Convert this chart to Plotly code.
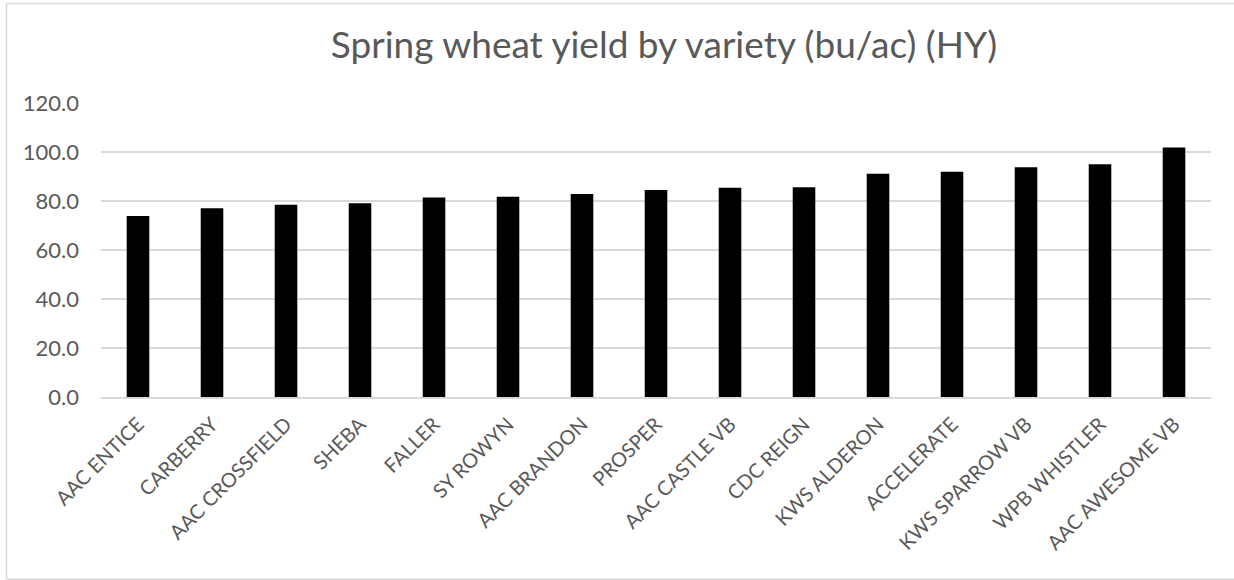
import plotly.graph_objects as go

varieties = ["AAC ENTICE", "CARBERRY", "AAC CROSSFIELD", "SHEBA", "FALLER", "SY ROWYN",
             "AAC BRANDON", "PROSPER", "AAC CASTLE VB", "CDC REIGN", "KWS ALDERON",
             "ACCELERATE", "KWS SPARROW VB", "WPB WHISTLER", "AAC AWESOME VB"]
yield_bu_ac = [73.9, 77.0, 78.5, 79.1, 81.4, 81.7, 82.9, 84.5, 85.4, 85.6, 91.1, 91.9, 93.8, 95.0, 101.8]
y_ticks = [0, 20, 40, 60, 80, 100, 120]

W, H = 1234, 580
# plot area in page pixels
PL, PR, PT, PB = 101, 1211, 103.3, 396.7
L, T = PL, PT
pw, ph = PR - PL, PB - PT
R, B = W - PR, H - PB

def px(x):
    return (x - L) / pw

def py(y):
    return (PB - y) / ph

frame = dict(color="#d9d9d9", width=1.5)
fig = go.Figure(go.Bar(x=varieties, y=yield_bu_ac, marker=dict(color="#000000", line=dict(width=0)),
                       hoverinfo="x+y"))

fig.update_layout(
    width=W, height=H,
    margin=dict(l=L, r=R, t=T, b=B, autoexpand=False),
    paper_bgcolor="white", plot_bgcolor="white",
    bargap=0.695,
    showlegend=False,
    font=dict(family="Lato, Open Sans, sans-serif", color="#595959"),
    title=dict(text="Spring wheat yield by variety (bu/ac) (HY)", x=664 / W, xanchor="center",
               y=1 - 45 / H, yanchor="middle",
               font=dict(size=37, color="#595959", family="Lato, Open Sans, sans-serif")),
    xaxis=dict(tickangle=-45, tickfont=dict(size=20, color="#595959"), showgrid=False,
               showline=True, linecolor="#d9d9d9", linewidth=1.5, ticks="", ticklabelstandoff=6),
    yaxis=dict(range=[0, 120], tickvals=y_ticks, tickformat=".1f",
               tickfont=dict(size=22, color="#595959"), showgrid=True, gridcolor="#d9d9d9",
               gridwidth=1.5, zeroline=False, showline=False, ticks="", ticklabelstandoff=21),
    shapes=[
        dict(type="line", xref="paper", yref="paper", x0=px(6.5), x1=px(6.5), y0=py(578.5), y1=py(4), line=frame),
        dict(type="line", xref="paper", yref="paper", x0=px(6.5), x1=px(1234), y0=py(4), y1=py(4), line=frame),
        dict(type="line", xref="paper", yref="paper", x0=px(6.5), x1=px(1234), y0=py(578.5), y1=py(578.5), line=frame),
    ],
)

fig.write_html("out.html", config={"displayModeBar": False},
               post_script="document.body.style.margin='0';")
